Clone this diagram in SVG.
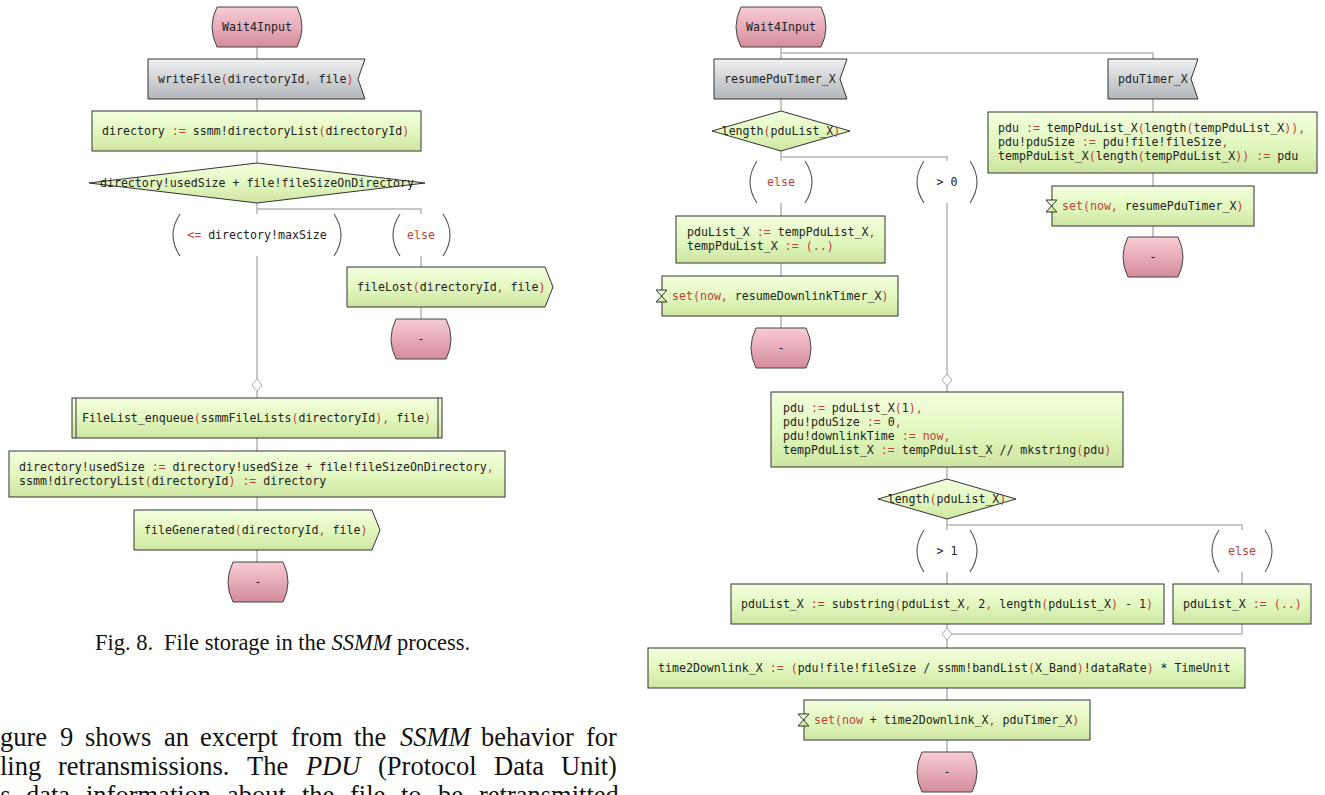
<svg xmlns="http://www.w3.org/2000/svg" width="1325" height="795" viewBox="0 0 1325 795">
  <defs>
    <linearGradient id="gTask" x1="0" y1="0" x2="0" y2="1">
      <stop offset="0" stop-color="#f4ffdf"/>
      <stop offset="0.55" stop-color="#e1f7bd"/>
      <stop offset="1" stop-color="#cde5a2"/>
    </linearGradient>
    <linearGradient id="gInput" x1="0" y1="0" x2="0" y2="1">
      <stop offset="0" stop-color="#f0f1f2"/>
      <stop offset="1" stop-color="#b2b6ba"/>
    </linearGradient>
    <linearGradient id="gState" x1="0" y1="0" x2="0" y2="1">
      <stop offset="0" stop-color="#f8ccd6"/>
      <stop offset="1" stop-color="#d48c9b"/>
    </linearGradient>
    <style>
      .task { fill: url(#gTask); stroke: #333; stroke-width: 1; }
      .input { fill: url(#gInput); stroke: #333; stroke-width: 1; }
      .state { fill: url(#gState); stroke: #444; stroke-width: 1; }
      .merge { fill: #fff; stroke: #aaa; stroke-width: 1; }
      .paren { fill: none; stroke: #555; stroke-width: 1.1; }
      .wire { fill: none; stroke: #b4b4b4; stroke-width: 1.5; }
      .t { font-family: "DejaVu Sans Mono", "Liberation Mono", monospace; font-size: 11.6px; fill: #222; }
      .c { text-anchor: middle; }
      .k { fill: #c0413b; }
      .body { font-family: "Liberation Serif", serif; fill: #111; }
      .cap { font-size: 22.5px; }
      .para { font-size: 26.5px; }
      .it { font-style: italic; }
    </style>
  </defs>

  <!-- ===================== connectors ===================== -->
  <g id="connectors" class="wire">
    <!-- file storage process -->
    <path d="M257 47V59M257 99V111M257 151V163M257 203V214M257 209H421V214"/>
    <path d="M257 256V379M257 391V398M257 438V451M257 497V510M257 550V562"/>
    <path d="M421 256V267M421 307V319"/>
    <!-- retransmission process -->
    <path d="M781 47V59M781 53H1153V59M781 99V111M781 151V161M781 157H947V161"/>
    <path d="M781 203V216M781 263V276M781 316V328"/>
    <path d="M1153 99V112M1153 173V186M1153 226V237"/>
    <path d="M947 203V374M947 386V392M947 467V479M947 519V530M947 525H1242V530"/>
    <path d="M947 572V584M1242 572V584M947 624V628M1242 624V634H952M947 640V648M947 688V700M947 740V752"/>
  </g>

  <!-- ===================== Fig. 8: file storage ===================== -->
  <g id="l-start">
    <path class="state" d="M217 7H297Q307 27 297 47H217Q207 27 217 7Z"/>
    <text class="t c" x="257" y="31">Wait4Input</text>
  </g>
  <g id="l-writeFile">
    <path class="input" d="M148 59H365L358 79L365 99H148Z"/>
    <text class="t" x="158" y="83">writeFile<tspan class="k">(</tspan>directoryId<tspan class="k">,</tspan> file<tspan class="k">)</tspan></text>
  </g>
  <g id="l-getDirectory">
    <rect class="task" x="92" y="111" width="329" height="40"/>
    <text class="t" x="102" y="135">directory <tspan class="k">:=</tspan> ssmm!directoryList<tspan class="k">(</tspan>directoryId<tspan class="k">)</tspan></text>
  </g>
  <g id="l-decision">
    <path class="task" d="M257 163L425 183L257 203L89 183Z"/>
    <text class="t c" x="257" y="187">directory!usedSize + file!fileSizeOnDirectory</text>
  </g>
  <g id="l-ans-fits">
    <path class="paren" d="M180 214Q166 235 180 256M334 214Q348 235 334 256"/>
    <text class="t c" x="257" y="239"><tspan class="k">&lt;=</tspan> directory!maxSize</text>
  </g>
  <g id="l-ans-else">
    <path class="paren" d="M400 214Q386 235 400 256M443 214Q457 235 443 256"/>
    <text class="t c k" x="421" y="239">else</text>
  </g>
  <g id="l-fileLost">
    <path class="task" d="M347 267H545L553 287L545 307H347Z"/>
    <text class="t" x="357" y="291">fileLost<tspan class="k">(</tspan>directoryId<tspan class="k">,</tspan> file<tspan class="k">)</tspan></text>
  </g>
  <g id="l-end-lost">
    <path class="state" d="M396 319H446Q456 339 446 359H396Q386 339 396 319Z"/>
    <text class="t c" x="421" y="343">-</text>
  </g>
  <g id="l-join">
    <path class="merge" d="M257 379L262 385L257 391L252 385Z"/>
  </g>
  <g id="l-enqueue">
    <rect class="task" x="72" y="398" width="370" height="40"/>
    <path fill="none" stroke="#333" stroke-width="1" d="M76 398V438M438 398V438"/>
    <text class="t" x="82" y="422">FileList_enqueue<tspan class="k">(</tspan>ssmmFileLists<tspan class="k">(</tspan>directoryId<tspan class="k">),</tspan> file<tspan class="k">)</tspan></text>
  </g>
  <g id="l-updateDirectory">
    <rect class="task" x="9" y="451" width="496" height="46"/>
    <text class="t" x="19" y="471">directory!usedSize <tspan class="k">:=</tspan> directory!usedSize + file!fileSizeOnDirectory<tspan class="k">,</tspan></text>
    <text class="t" x="19" y="485">ssmm!directoryList<tspan class="k">(</tspan>directoryId<tspan class="k">)</tspan> <tspan class="k">:=</tspan> directory</text>
  </g>
  <g id="l-fileGenerated">
    <path class="task" d="M134 510H372L380 530L372 550H134Z"/>
    <text class="t" x="144" y="534">fileGenerated<tspan class="k">(</tspan>directoryId<tspan class="k">,</tspan> file<tspan class="k">)</tspan></text>
  </g>
  <g id="l-end">
    <path class="state" d="M233 562H283Q293 582 283 602H233Q223 582 233 562Z"/>
    <text class="t c" x="258" y="586">-</text>
  </g>

  <text class="body cap" x="95" y="650">Fig. 8.<tspan x="164">File storage in the </tspan><tspan class="it">SSMM</tspan> process.</text>

  <!-- running text of the column, justified word by word -->
  <g class="body para">
    <text y="746"><tspan x="0">gure</tspan><tspan x="60">9</tspan><tspan x="85">shows</tspan><tspan x="164">an</tspan><tspan x="200">excerpt</tspan><tspan x="291">from</tspan><tspan x="354">the</tspan><tspan x="400" class="it">SSMM</tspan><tspan x="481">behavior</tspan><tspan x="586">for</tspan></text>
    <text y="775"><tspan x="0">ling</tspan><tspan x="58">retransmissions.</tspan><tspan x="247">The</tspan><tspan x="306" class="it">PDU</tspan><tspan x="378">(Protocol</tspan><tspan x="494">Data</tspan><tspan x="561">Unit)</tspan></text>
    <text y="804"><tspan x="-13">ns</tspan><tspan x="26">data</tspan><tspan x="86">information</tspan><tspan x="227">about</tspan><tspan x="302">the</tspan><tspan x="350">file</tspan><tspan x="401">to</tspan><tspan x="438">be</tspan><tspan x="479">retransmitted</tspan></text>
  </g>

  <!-- ===================== retransmission handling ===================== -->
  <g id="r-start">
    <path class="state" d="M741 7H821Q831 27 821 47H741Q731 27 741 7Z"/>
    <text class="t c" x="781" y="31">Wait4Input</text>
  </g>
  <g id="r-resumePduTimer">
    <path class="input" d="M714 59H847L840 79L847 99H714Z"/>
    <text class="t" x="724" y="83">resumePduTimer_X</text>
  </g>
  <g id="r-pduTimer">
    <path class="input" d="M1108 59H1198L1191 79L1198 99H1108Z"/>
    <text class="t" x="1118" y="83">pduTimer_X</text>
  </g>
  <g id="r-decision1">
    <path class="task" d="M781 111L850 131L781 151L712 131Z"/>
    <text class="t c" x="781" y="135">length<tspan class="k">(</tspan>pduList_X<tspan class="k">)</tspan></text>
  </g>
  <g id="r-ans-else1">
    <path class="paren" d="M757 161Q743 182 757 203M805 161Q819 182 805 203"/>
    <text class="t c k" x="781" y="186">else</text>
  </g>
  <g id="r-ans-gt0">
    <path class="paren" d="M924 161Q910 182 924 203M970 161Q984 182 970 203"/>
    <text class="t c" x="947" y="186">&gt; 0</text>
  </g>
  <g id="r-restoreList">
    <rect class="task" x="676" y="216" width="209" height="47"/>
    <text class="t" x="687" y="236">pduList_X <tspan class="k">:=</tspan> tempPduList_X<tspan class="k">,</tspan></text>
    <text class="t" x="687" y="250">tempPduList_X <tspan class="k">:=</tspan> <tspan class="k">(..)</tspan></text>
  </g>
  <g id="r-setResumeDownlink">
    <rect class="task" x="662" y="276" width="236" height="40"/>
    <path class="task" d="M656 290H667L656 302H667Z"/>
    <text class="t" x="672" y="300"><tspan class="k">set(now,</tspan> resumeDownlinkTimer_X<tspan class="k">)</tspan></text>
  </g>
  <g id="r-end1">
    <path class="state" d="M756 328H806Q816 348 806 368H756Q746 348 756 328Z"/>
    <text class="t c" x="781" y="352">-</text>
  </g>
  <g id="r-requeuePdu">
    <rect class="task" x="988" y="112" width="329" height="61"/>
    <text class="t" x="998" y="132">pdu <tspan class="k">:=</tspan> tempPduList_X<tspan class="k">(</tspan>length<tspan class="k">(</tspan>tempPduList_X<tspan class="k">)),</tspan></text>
    <text class="t" x="998" y="146">pdu!pduSize <tspan class="k">:=</tspan> pdu!file!fileSize<tspan class="k">,</tspan></text>
    <text class="t" x="998" y="160">tempPduList_X<tspan class="k">(</tspan>length<tspan class="k">(</tspan>tempPduList_X<tspan class="k">))</tspan> <tspan class="k">:=</tspan> pdu</text>
  </g>
  <g id="r-setResumePdu">
    <rect class="task" x="1052" y="186" width="202" height="40"/>
    <path class="task" d="M1046 200H1057L1046 212H1057Z"/>
    <text class="t" x="1062" y="210"><tspan class="k">set(now,</tspan> resumePduTimer_X<tspan class="k">)</tspan></text>
  </g>
  <g id="r-end2">
    <path class="state" d="M1128 237H1178Q1188 257 1178 277H1128Q1118 257 1128 237Z"/>
    <text class="t c" x="1153" y="261">-</text>
  </g>
  <g id="r-join1">
    <path class="merge" d="M947 374L952 380L947 386L942 380Z"/>
  </g>
  <g id="r-takePdu">
    <rect class="task" x="771" y="392" width="352" height="75"/>
    <text class="t" x="783" y="412">pdu <tspan class="k">:=</tspan> pduList_X<tspan class="k">(</tspan>1<tspan class="k">),</tspan></text>
    <text class="t" x="783" y="426">pdu!pduSize <tspan class="k">:=</tspan> 0<tspan class="k">,</tspan></text>
    <text class="t" x="783" y="440">pdu!downlinkTime <tspan class="k">:=</tspan> <tspan class="k">now,</tspan></text>
    <text class="t" x="783" y="454">tempPduList_X <tspan class="k">:=</tspan> tempPduList_X // mkstring<tspan class="k">(</tspan>pdu<tspan class="k">)</tspan></text>
  </g>
  <g id="r-decision2">
    <path class="task" d="M947 479L1016 499L947 519L878 499Z"/>
    <text class="t c" x="947" y="503">length<tspan class="k">(</tspan>pduList_X<tspan class="k">)</tspan></text>
  </g>
  <g id="r-ans-gt1">
    <path class="paren" d="M924 530Q910 551 924 572M970 530Q984 551 970 572"/>
    <text class="t c" x="947" y="555">&gt; 1</text>
  </g>
  <g id="r-ans-else2">
    <path class="paren" d="M1219 530Q1205 551 1219 572M1265 530Q1279 551 1265 572"/>
    <text class="t c k" x="1242" y="555">else</text>
  </g>
  <g id="r-dropHead">
    <rect class="task" x="731" y="584" width="433" height="40"/>
    <text class="t" x="741" y="608">pduList_X <tspan class="k">:=</tspan> substring<tspan class="k">(</tspan>pduList_X<tspan class="k">,</tspan> 2<tspan class="k">,</tspan> length<tspan class="k">(</tspan>pduList_X<tspan class="k">)</tspan> - 1<tspan class="k">)</tspan></text>
  </g>
  <g id="r-clearList">
    <rect class="task" x="1173" y="584" width="138" height="40"/>
    <text class="t" x="1183" y="608">pduList_X <tspan class="k">:=</tspan> <tspan class="k">(..)</tspan></text>
  </g>
  <g id="r-join2">
    <path class="merge" d="M947 628L952 634L947 640L942 634Z"/>
  </g>
  <g id="r-downlinkTime">
    <rect class="task" x="648" y="648" width="597" height="40"/>
    <text class="t" x="658" y="672">time2Downlink_X <tspan class="k">:=</tspan> <tspan class="k">(</tspan>pdu!file!fileSize / ssmm!bandList<tspan class="k">(</tspan>X_Band<tspan class="k">)</tspan>!dataRate<tspan class="k">)</tspan> * TimeUnit</text>
  </g>
  <g id="r-setPduTimer">
    <rect class="task" x="804" y="700" width="286" height="40"/>
    <path class="task" d="M798 714H809L798 726H809Z"/>
    <text class="t" x="814" y="724"><tspan class="k">set(now</tspan> + time2Downlink_X<tspan class="k">,</tspan> pduTimer_X<tspan class="k">)</tspan></text>
  </g>
  <g id="r-end3">
    <path class="state" d="M922 752H972Q982 772 972 792H922Q912 772 922 752Z"/>
    <text class="t c" x="947" y="776">-</text>
  </g>
</svg>
